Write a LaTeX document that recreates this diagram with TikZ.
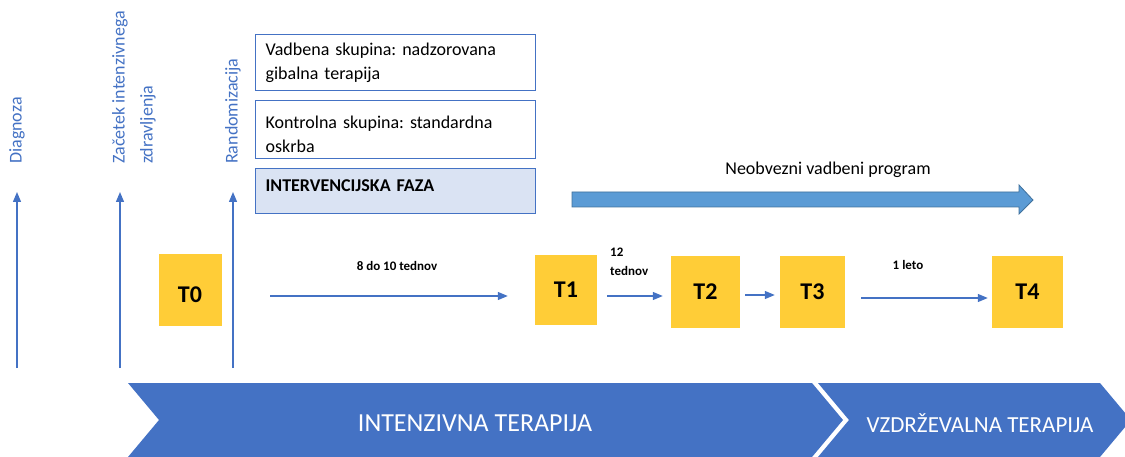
\documentclass[tikz,border=0pt]{standalone}
\usepackage{fontspec}
\setmainfont{Carlito}
\usetikzlibrary{arrows.meta}
\definecolor{accblue}{HTML}{4472C4}
\definecolor{lightfill}{HTML}{DAE3F3}
\definecolor{progfill}{HTML}{5B9BD5}
\definecolor{progedge}{HTML}{41719C}
\definecolor{tyellow}{HTML}{FFCD37}
\frenchspacing
\begin{document}
\begin{tikzpicture}[x=1pt,y=-1pt,
    blueline/.style={draw=accblue, line width=1.3pt, -{Triangle[length=10pt,width=8pt]}},
    vlabel/.style={rotate=90, anchor=west, inner sep=0pt, text=accblue, align=left, font=\fontsize{18}{28}\selectfont},
    groupbox/.style={draw=accblue, line width=1.2pt, anchor=north west, minimum width=280pt, text width=260pt, inner xsep=10pt, align=left, font=\fontsize{18}{24}\selectfont},
    timept/.style={fill=tyellow, inner sep=0pt, font=\fontsize{24}{28}\selectfont\bfseries},
    steplabel/.style={inner sep=0pt, align=left, font=\fontsize{13}{19}\selectfont\bfseries},
    phase/.style={fill=accblue, draw=none}]
  \useasboundingbox (0,0) rectangle (1125,457);
  \clip (0,0) rectangle (1125,457);

  % time points
  \node[timept, minimum width=63pt, minimum height=71pt, text height=25pt] (T0) at (190,290) {T0\hspace{13pt}};
  \node[timept, minimum width=62pt, minimum height=70pt] (T1) at (566,290) {T1\hspace{6pt}};
  \node[timept, minimum width=69pt, minimum height=72pt] (T2) at (705.5,292) {T2\hspace{10pt}};
  \node[timept, minimum width=65pt, minimum height=72pt] (T3) at (812.5,292) {T3\hspace{4pt}};
  \node[timept, minimum width=71pt, minimum height=72pt] (T4) at (1027.5,292) {T4};

  \draw[blueline, shorten <=48.5pt, shorten >=27pt] ([yshift=-6pt]T0.east) -- ([yshift=-6pt]T1.west);
  \draw[blueline, shorten <=10pt, shorten >=8pt] ([yshift=-6pt]T1.east) -- ([yshift=-4pt]T2.west);
  \draw[blueline, shorten <=5pt, shorten >=5pt] ([yshift=-3pt]T2.east) -- ([yshift=-3pt]T3.west);
  \draw[blueline, shorten <=16pt, shorten >=4pt] ([yshift=-6pt]T3.east) -- ([yshift=-6pt]T4.west);

  \node[steplabel] (w8) at (397,266) {8 do 10 tednov};
  \node[steplabel, anchor=west] (w12) at (610,262) {12\\tednov};
  \node[steplabel] (y1) at (908,265) {1 leto};

  % events
  \coordinate (dgs) at (17,368);
  \coordinate (zcs) at (120,368);
  \coordinate (rds) at (233,368);
  \node[vlabel] (dgl) at (17,164) {Diagnoza};
  \node[vlabel] (zcl) at (134,164) {Začetek intenzivnega\\zdravljenja};
  \node[vlabel] (rdl) at (233,164) {Randomizacija};
  \begin{scope}[shorten >=28pt]
    \draw[blueline] (dgs) -- (dgl.west);
    \draw[blueline] (zcs) -- (zcs |- zcl.west);
    \draw[blueline] (rds) -- (rdl.west);
  \end{scope}

  % groups
  \node[groupbox, minimum height=56pt] (vbox) at (255,34) {Vadbena skupina: nadzorovana\\gibalna terapija};
  \node[groupbox, minimum height=58pt, text depth=14pt] (kbox) at (255,100) {Kontrolna skupina: standardna\\oskrba};
  \node[groupbox, minimum height=45pt, fill=lightfill, text depth=12pt, font=\fontsize{18}{20}\selectfont\bfseries] (ibox) at (255,168) {INTERVENCIJSKA FAZA};

  % optional programme
  \draw[fill=progfill, draw=progedge, line width=0.8pt]
    (572,192) -- (1019,192) -- (1019,185) -- (1033,200) -- (1019,214) -- (1019,207) -- (572,207) -- cycle;
  \node[font=\fontsize{18}{20}\selectfont] (prog) at (828,170) {Neobvezni vadbeni program};

  % phases
  \fill[phase] (128,383) -- (812,383) -- (843,420) -- (812,457) -- (128,457) -- (159,420) -- cycle;
  \fill[phase] (818,383) -- (1100,383) -- (1131,420) -- (1100,457) -- (818,457) -- (849,420) -- cycle;
  \node[text=white, font=\fontsize{26}{28}\selectfont] (intp) at (475,423) {INTENZIVNA TERAPIJA};
  \node[text=white, font=\fontsize{23}{26}\selectfont] (vzdp) at (980,423) {VZDRŽEVALNA TERAPIJA};
\end{tikzpicture}
\end{document}
